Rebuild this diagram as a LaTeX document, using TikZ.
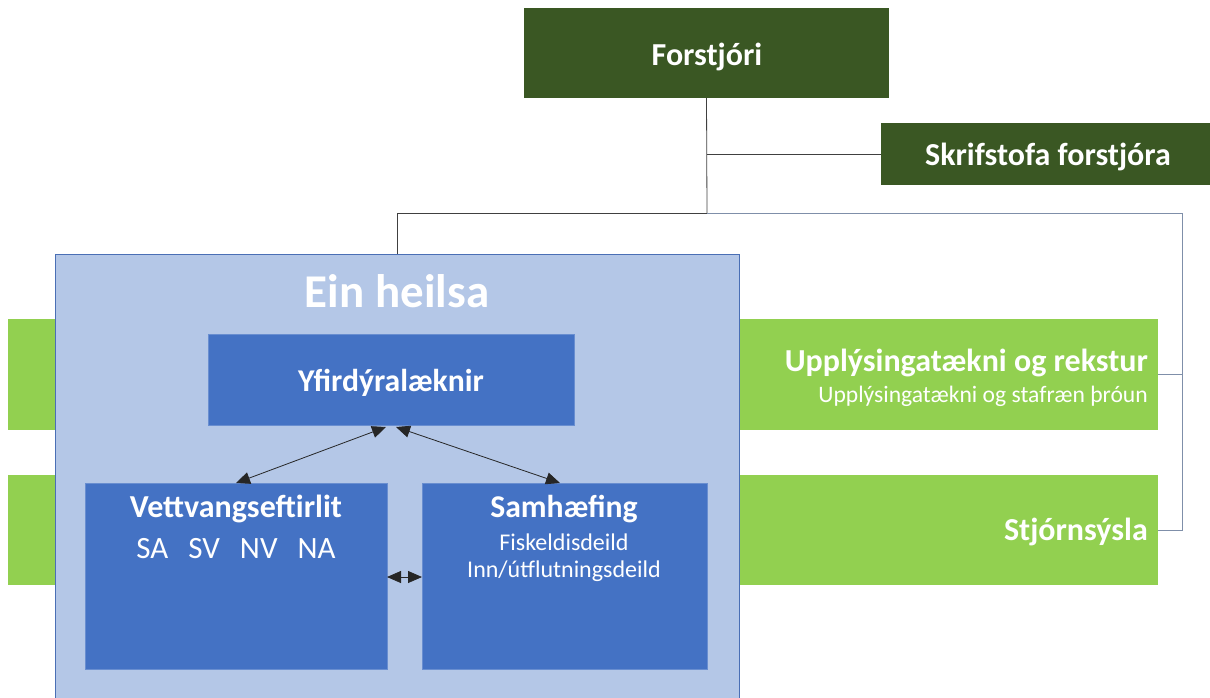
\documentclass[tikz,border=0pt]{standalone}
\usepackage{fontspec}
\setmainfont{Carlito}
\usetikzlibrary{arrows.meta}
\definecolor{dkgreen}{HTML}{3A5723}
\definecolor{ltgreen}{HTML}{92D050}
\definecolor{ltblue}{HTML}{B4C7E7}
\definecolor{midblue}{HTML}{4472C4}
\definecolor{edgeblue}{HTML}{4A6FB5}
\definecolor{lineblue}{HTML}{7F8FA9}
\begin{document}
\begin{tikzpicture}[x=1pt,y=-1pt,
  boxnode/.style={inner sep=0pt, outer sep=0pt, anchor=north west},
  wtext/.style={text=white, inner sep=0pt},
  conn/.style={draw=black!75, line width=0.8pt},
  connb/.style={draw=lineblue, line width=0.8pt},
  biarrow/.style={black!85, line width=0.8pt, {Triangle[length=14pt,width=12pt]}-{Triangle[length=14pt,width=12pt]}}
]
\useasboundingbox (0,0) rectangle (1210,697);
% green bars
\node[boxnode, fill=ltgreen, minimum width=1150pt, minimum height=111pt] (ur) at (8,319) {};
\node[boxnode, fill=ltgreen, minimum width=1150pt, minimum height=110pt] (st) at (8,475) {};
% top boxes
\node[boxnode, fill=dkgreen, minimum width=365pt, minimum height=90pt] (f) at (524,8) {};
\node[boxnode, fill=dkgreen, minimum width=334pt, minimum height=62pt] (sk) at (881,123) {};
% Ein heilsa
\node[boxnode, fill=ltblue, draw=edgeblue, line width=0.8pt, minimum width=684pt, minimum height=460pt] (eh) at (55,254) {};
\node[boxnode, fill=midblue, draw=midblue!80!white, line width=0.5pt, minimum width=366pt, minimum height=91pt] (yd) at (208,334) {};
\node[boxnode, fill=midblue, draw=midblue!80!white, line width=0.5pt, minimum width=302pt, minimum height=186pt] (ve) at (85,483) {};
\node[boxnode, fill=midblue, draw=midblue!80!white, line width=0.5pt, minimum width=285pt, minimum height=186pt] (sa) at (422,483) {};
% texts
\node[wtext, font=\bfseries\fontsize{32}{38}\selectfont] (tf) at (707,57) {Forstjóri};
\node[wtext, font=\bfseries\fontsize{32}{38}\selectfont] (tsk) at (1048,157) {Skrifstofa forstjóra};
\node[wtext, font=\bfseries\fontsize{47}{56}\selectfont] (teh) at (397,291) {Ein heilsa};
\node[wtext, font=\bfseries\fontsize{32}{38}\selectfont, anchor=east] (tur) at (1148,363) {Upplýsingatækni og rekstur};
\node[wtext, font=\fontsize{23.6}{28}\selectfont, anchor=east] (tur2) at (1148,396) {Upplýsingatækni og stafræn þróun};
\node[wtext, font=\bfseries\fontsize{32}{38}\selectfont, anchor=east] (tst) at (1148,532) {Stjórnsýsla};
\node[wtext, font=\bfseries\fontsize{31.7}{38}\selectfont] (tyd) at (391,383) {Yfirdýralæknir};
\node[wtext, font=\bfseries\fontsize{32}{38}\selectfont] (tve) at (236,509) {Vettvangseftirlit};
\node[wtext, font=\fontsize{31}{37}\selectfont] (tve2) at (236,549) {SA\hspace{20pt}SV\hspace{20pt}NV\hspace{20pt}NA};
\node[wtext, font=\bfseries\fontsize{31.7}{38}\selectfont] (tsa) at (564,509) {Samhæfing};
\node[wtext, font=\fontsize{24}{28}\selectfont] (tsa2) at (564,542) {Fiskeldisdeild};
\node[wtext, font=\fontsize{24}{28}\selectfont] (tsa3) at (564,571) {Inn/útflutningsdeild};
% connectors
\coordinate (j) at (707,213);
\coordinate (r) at (1182,213);
\draw[conn] (f.south) -- (j);
\draw[conn] (f.south |- sk.west) -- (sk.west);
\draw[conn] (j) -| (eh.north);
\draw[connb] (j) -- (r) |- (st.east);
\draw[connb] (r |- ur.east) -- (ur.east);
% arrows
\coordinate (yl) at (386,427);
\coordinate (yr) at (396,427);
\coordinate (vt) at (236,483);
\coordinate (st2) at (560,483);
\draw[biarrow] (yl) -- (vt);
\draw[biarrow] (yr) -- (st2);
\coordinate (ha) at (387,577);
\coordinate (hb) at (422,577);
\draw[biarrow] (ha) -- (hb);
\end{tikzpicture}
\end{document}
